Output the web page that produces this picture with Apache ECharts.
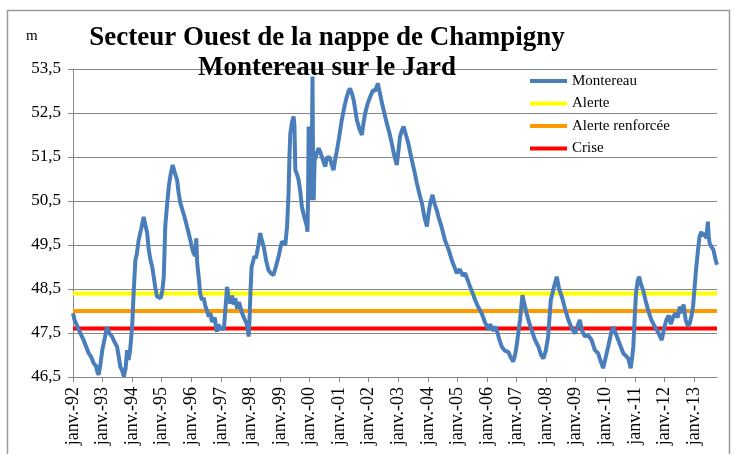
<!DOCTYPE html>
<html>
<head>
<meta charset="utf-8">
<script src="https://cdn.jsdelivr.net/npm/echarts@6/dist/echarts.min.js"></script>
<style>
  html, body { margin: 0; padding: 0; background: #fff; }
  #chart { width: 735px; height: 454px; }
</style>
</head>
<body>
<div id="chart"></div>
<script>
// dates en années décimales, niveaux en m
const dates = [
  1992.00, 1992.05, 1992.20, 1992.35, 1992.53, 1992.62, 1992.70, 1992.78, 1992.82, 1992.87,
  1992.93, 1992.99, 1993.08, 1993.15, 1993.22, 1993.32, 1993.40, 1993.49, 1993.55, 1993.60,
  1993.66, 1993.72, 1993.78, 1993.83, 1993.88, 1993.93, 1994.00, 1994.05, 1994.11, 1994.16,
  1994.22, 1994.30, 1994.39, 1994.45, 1994.51, 1994.56, 1994.62, 1994.68, 1994.73, 1994.78,
  1994.84, 1994.90, 1994.96, 1995.02, 1995.07, 1995.12, 1995.18, 1995.24, 1995.30, 1995.37,
  1995.44, 1995.52, 1995.57, 1995.63, 1995.70, 1995.80, 1995.88, 1995.97, 1996.02, 1996.08,
  1996.13, 1996.17, 1996.20, 1996.25, 1996.30, 1996.36, 1996.42, 1996.48, 1996.54, 1996.59,
  1996.65, 1996.70, 1996.76, 1996.80, 1996.84, 1996.87, 1996.92, 1996.97, 1997.04, 1997.10,
  1997.15, 1997.21, 1997.25, 1997.32, 1997.38, 1997.43, 1997.49, 1997.55, 1997.61, 1997.66,
  1997.72, 1997.78, 1997.83, 1997.88, 1997.94, 1997.97, 1998.00, 1998.04, 1998.08, 1998.14,
  1998.18, 1998.22, 1998.27, 1998.33, 1998.39, 1998.45, 1998.53, 1998.61, 1998.70, 1998.78,
  1998.86, 1998.95, 1999.02, 1999.07, 1999.12, 1999.18, 1999.24, 1999.29, 1999.32, 1999.35,
  1999.41, 1999.46, 1999.49, 1999.52, 1999.58, 1999.63, 1999.69, 1999.74, 1999.80, 1999.85,
  1999.90, 1999.93, 1999.95, 1999.97, 1999.99, 2000.02, 2000.05, 2000.07, 2000.10, 2000.12,
  2000.14, 2000.17, 2000.19, 2000.25, 2000.31, 2000.36, 2000.42, 2000.47, 2000.53, 2000.58,
  2000.64, 2000.70, 2000.76, 2000.81, 2000.87, 2000.93, 2001.00, 2001.09, 2001.18, 2001.26,
  2001.32, 2001.37, 2001.43, 2001.49, 2001.55, 2001.60, 2001.68, 2001.77, 2001.82, 2001.88,
  2001.96, 2002.05, 2002.15, 2002.22, 2002.31, 2002.38, 2002.45, 2002.53, 2002.61, 2002.70,
  2002.78, 2002.86, 2002.95, 2003.00, 2003.06, 2003.12, 2003.18, 2003.26, 2003.34, 2003.42,
  2003.51, 2003.57, 2003.63, 2003.72, 2003.80, 2003.88, 2003.97, 2004.02, 2004.08, 2004.16,
  2004.22, 2004.30, 2004.36, 2004.47, 2004.58, 2004.70, 2004.81, 2004.90, 2004.98, 2005.08,
  2005.18, 2005.26, 2005.35, 2005.43, 2005.52, 2005.60, 2005.70, 2005.82, 2005.93, 2006.05,
  2006.10, 2006.16, 2006.22, 2006.28, 2006.33, 2006.42, 2006.50, 2006.60, 2006.72, 2006.80,
  2006.89, 2006.95, 2007.00, 2007.06, 2007.12, 2007.20, 2007.27, 2007.34, 2007.42, 2007.51,
  2007.62, 2007.74, 2007.83, 2007.91, 2007.99, 2008.07, 2008.12, 2008.16, 2008.25, 2008.36,
  2008.44, 2008.53, 2008.64, 2008.75, 2008.87, 2008.98, 2009.06, 2009.14, 2009.22, 2009.31,
  2009.42, 2009.54, 2009.65, 2009.76, 2009.85, 2009.93, 2010.00, 2010.10, 2010.20, 2010.27,
  2010.35, 2010.44, 2010.52, 2010.61, 2010.70, 2010.78, 2010.86, 2010.92, 2010.95, 2011.00,
  2011.04, 2011.10, 2011.15, 2011.21, 2011.28, 2011.36, 2011.45, 2011.56, 2011.68, 2011.80,
  2011.91, 2011.99, 2012.07, 2012.15, 2012.22, 2012.30, 2012.38, 2012.45, 2012.52, 2012.58,
  2012.65, 2012.72, 2012.80, 2012.86, 2012.92, 2012.97, 2013.03, 2013.08, 2013.14, 2013.19,
  2013.25, 2013.30, 2013.36, 2013.42, 2013.47, 2013.50, 2013.53, 2013.60, 2013.66, 2013.72,
  2013.78
];
const montereau = [
  47.95, 47.80, 47.57, 47.35, 47.04, 46.95, 46.81, 46.75, 46.62, 46.55,
  46.80, 47.11, 47.40, 47.64, 47.50, 47.42, 47.30, 47.19, 46.95, 46.73,
  46.65, 46.51, 46.70, 47.11, 46.89, 47.10, 47.64, 48.40, 49.16, 49.30,
  49.61, 49.85, 50.14, 49.95, 49.77, 49.40, 49.16, 49.00, 48.78, 48.55,
  48.33, 48.32, 48.29, 48.45, 48.78, 49.92, 50.40, 50.83, 51.10, 51.32,
  51.15, 50.98, 50.70, 50.45, 50.30, 50.07, 49.85, 49.61, 49.45, 49.31,
  49.25, 49.65, 49.10, 48.78, 48.40, 48.25, 48.30, 48.10, 48.00, 47.87,
  47.95, 47.75, 47.72, 47.85, 47.60, 47.53, 47.70, 47.58, 47.64, 47.57,
  48.00, 48.55, 48.35, 48.17, 48.35, 48.15, 48.29, 48.05, 48.20, 48.10,
  47.95, 47.85, 47.87, 47.70, 47.42, 47.80, 48.40, 49.00, 49.10, 49.25,
  49.20, 49.31, 49.50, 49.77, 49.60, 49.46, 49.15, 48.93, 48.85, 48.82,
  49.00, 49.23, 49.45, 49.58, 49.55, 49.50, 49.92, 50.67, 51.50, 52.04,
  52.30, 52.42, 52.20, 51.20, 51.10, 50.98, 50.70, 50.37, 50.20, 50.07,
  49.95, 49.80, 50.60, 52.19, 51.00, 50.52, 51.60, 51.00, 53.33, 51.20,
  50.52, 51.40, 51.43, 51.60, 51.70, 51.73, 51.50, 51.40, 51.28, 51.45,
  51.51, 51.45, 51.30, 51.20, 51.45, 51.66, 51.95, 52.34, 52.65, 52.87,
  53.00, 53.06, 52.95, 52.80, 52.55, 52.34, 52.15, 52.00, 52.25, 52.49,
  52.70, 52.87, 53.02, 53.00, 53.17, 52.95, 52.72, 52.50, 52.27, 52.05,
  51.81, 51.55, 51.32, 51.60, 51.96, 52.10, 52.19, 52.00, 51.81, 51.55,
  51.28, 51.10, 50.90, 50.65, 50.45, 50.15, 49.92, 50.20, 50.45, 50.64,
  50.45, 50.30, 50.14, 49.90, 49.61, 49.40, 49.16, 49.00, 48.86, 48.95,
  48.80, 48.86, 48.70, 48.55, 48.40, 48.25, 48.10, 47.95, 47.75, 47.57,
  47.70, 47.68, 47.55, 47.65, 47.57, 47.35, 47.19, 47.10, 47.07, 46.95,
  46.85, 47.00, 47.19, 47.50, 47.80, 48.36, 48.15, 47.95, 47.75, 47.57,
  47.35, 47.19, 47.00, 46.92, 47.10, 47.42, 47.90, 48.25, 48.50, 48.78,
  48.50, 48.33, 48.05, 47.80, 47.60, 47.49, 47.65, 47.80, 47.55, 47.42,
  47.45, 47.34, 47.11, 47.04, 46.85, 46.70, 46.90, 47.19, 47.50, 47.64,
  47.50, 47.34, 47.20, 47.04, 46.98, 46.92, 46.70, 47.00, 47.19, 47.90,
  48.40, 48.70, 48.78, 48.60, 48.48, 48.25, 48.02, 47.80, 47.64, 47.50,
  47.34, 47.60, 47.80, 47.90, 47.70, 47.87, 47.95, 47.85, 48.10, 47.95,
  48.15, 47.80, 47.65, 47.72, 47.90, 48.10, 48.60, 49.00, 49.40, 49.69,
  49.80, 49.70, 49.77, 49.65, 50.03, 49.70, 49.54, 49.45, 49.39, 49.20,
  49.05
];
const seuilNoms = ['Alerte', 'Alerte renforcée', 'Crise'];
const seuilValeurs = [48.4, 48.0, 47.6];
const seuilCouleurs = ['#FFFF00', '#FF9900', '#FF0000'];

const xMin = 1992;
const xMax = 2013.78;
const font = '"Liberation Serif", "Times New Roman", serif';

const series = [{
  name: 'Montereau',
  type: 'line',
  data: dates.map((d, i) => [d, montereau[i]]),
  showSymbol: false,
  lineStyle: { color: '#4A7EBB', width: 4 },
  itemStyle: { color: '#4A7EBB' },
  z: 5
}];
seuilNoms.forEach((n, i) => {
  series.push({
    name: n,
    type: 'line',
    data: [[xMin, seuilValeurs[i]], [xMax, seuilValeurs[i]]],
    showSymbol: false,
    lineStyle: { color: seuilCouleurs[i], width: 4 },
    itemStyle: { color: seuilCouleurs[i] },
    z: 3
  });
});

const myChart = echarts.init(document.getElementById('chart'), null, { renderer: 'canvas' });
myChart.setOption({
  animation: false,
  backgroundColor: '#fff',
  title: [
    {
      text: 'Secteur Ouest de la nappe de Champigny\nMontereau sur le Jard',
      left: 327, top: 23, textAlign: 'center', padding: 0,
      textStyle: { fontFamily: font, fontSize: 27, fontWeight: 'bold', color: '#000', lineHeight: 30 }
    },
    {
      text: 'm', left: 26, top: 29, padding: 0,
      textStyle: { fontFamily: font, fontSize: 15, fontWeight: 'normal', color: '#000' }
    }
  ],
  graphic: [{
    type: 'rect',
    shape: { x: 7.5, y: 10.5, width: 722, height: 460 },
    style: { fill: 'none', stroke: '#9a9a9a', lineWidth: 1.5 },
    silent: true
  }],
  legend: {
    data: ['Montereau'].concat(seuilNoms),
    orient: 'vertical',
    left: 525, top: 68,
    icon: 'rect',
    itemWidth: 37, itemHeight: 4, itemGap: 6.5,
    textStyle: { fontFamily: font, fontSize: 15, color: '#000', lineHeight: 16 }
  },
  grid: { left: 73, right: 18, top: 69, bottom: 77 },
  xAxis: {
    type: 'value',
    min: xMin, max: xMax, interval: 1,
    axisLine: { lineStyle: { color: '#868686', width: 1 } },
    axisTick: { length: 5, lineStyle: { color: '#868686' } },
    splitLine: { show: false },
    axisLabel: {
      rotate: 90, margin: 10,
      fontFamily: font, fontSize: 18, color: '#000',
      showMaxLabel: false,
      formatter: v => Number.isInteger(Math.round(v * 1000) / 1000) ? 'janv.-' + String(Math.round(v)).slice(-2) : ''
    }
  },
  yAxis: {
    type: 'value',
    min: 46.5, max: 53.5, interval: 1,
    axisLine: { show: true, lineStyle: { color: '#868686', width: 1 } },
    axisTick: { show: true, length: 5, lineStyle: { color: '#868686' } },
    splitLine: { lineStyle: { color: '#868686', width: 1 } },
    axisLabel: {
      margin: 12,
      fontFamily: font, fontSize: 17, color: '#000',
      formatter: v => v.toFixed(1).replace('.', ',')
    }
  },
  series: series
});
window.onresize = function () {
  myChart.resize();
};
</script>
</body>
</html>
